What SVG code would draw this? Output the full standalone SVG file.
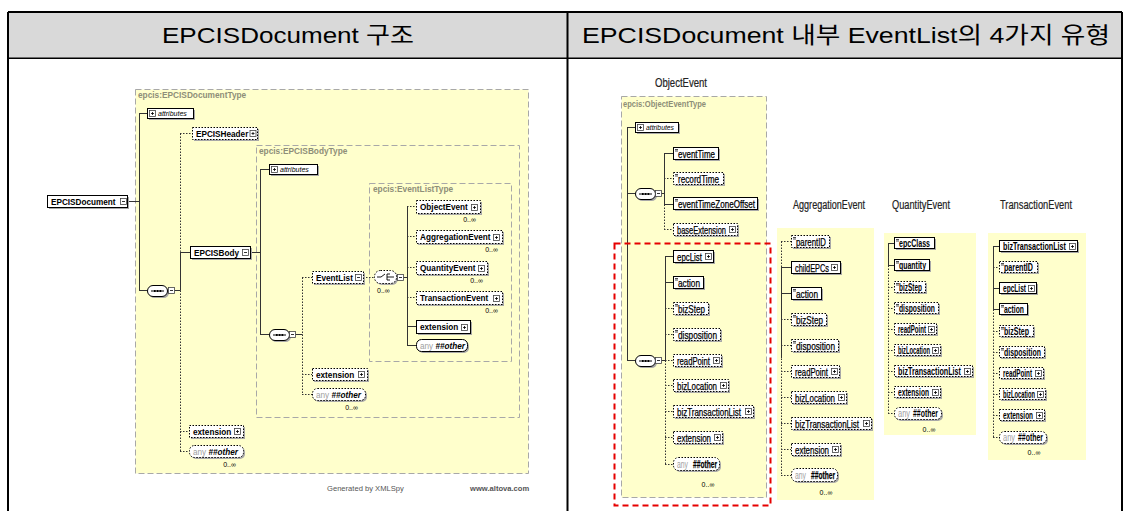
<svg xmlns="http://www.w3.org/2000/svg" xmlns:xlink="http://www.w3.org/1999/xlink" width="1127" height="511" viewBox="0 0 1127 511">
<style>
.sh{fill:#a8a8a8}
.bx{fill:#fff;stroke:#000;stroke-width:1}
.bo{fill:#fff;stroke:#000;stroke-width:1;stroke-dasharray:1.5 1.5}
.ln{stroke:#333;stroke-width:1;fill:none}
.dl{stroke:#333;stroke-width:1;fill:none;stroke-dasharray:1.5 1.5}
.yb{fill:#ffffcc;stroke:#a8a8a8;stroke-width:1;stroke-dasharray:6 3}
.yf{fill:#ffffcc}
.hd{font-family:"Liberation Sans","Noto Sans CJK KR",sans-serif;font-size:22.5px;fill:#000}
.tl{font-family:"Liberation Sans",Arial,sans-serif;font-size:8.2px;font-weight:bold;fill:#000}
.ti{font-family:"Liberation Sans",Arial,sans-serif;font-size:7px;font-style:italic;fill:#000}
.ty{font-family:"Liberation Sans",Arial,sans-serif;font-size:8.3px;font-weight:bold;fill:#8e8e78}
.tr{font-family:"Liberation Sans",Arial,sans-serif;font-size:11px;fill:#000;stroke:#000;stroke-width:0.25}
.tb{font-family:"Liberation Sans",Arial,sans-serif;font-size:10px;font-weight:bold;fill:#000}
.an{fill:#a0a0a0;stroke:none;font-weight:normal;font-style:normal}
.oth{font-weight:bold;font-style:italic;fill:#000}
.mu{font-family:"Liberation Sans",Arial,sans-serif;font-size:7px;fill:#000}
.tt{font-family:"Liberation Sans",Arial,sans-serif;font-size:12px;fill:#222;stroke:#222;stroke-width:0.2}
.ft{font-family:"Liberation Sans",Arial,sans-serif;font-size:7.6px;fill:#555}
</style>
<defs>
  <g id="pl"><rect x="0.5" y="0.5" width="6" height="6" fill="#fff" stroke="#444" stroke-width="0.8"/><path d="M2 3.5h3M3.5 2v3" stroke="#000" stroke-width="0.8"/></g>
  <g id="mi"><rect x="0.5" y="0.5" width="6" height="6" fill="#fff" stroke="#444" stroke-width="0.8"/><path d="M2 3.5h3" stroke="#000" stroke-width="0.8"/></g>
  <path id="eq" d="M0 0.5h3M0 2h3" stroke="#000" stroke-width="0.7"/>
  <g id="seq">
    <rect x="2" y="2" width="20" height="11" rx="5.5" fill="#a8a8a8"/>
    <rect x="0.5" y="0.5" width="20" height="11" rx="5.5" fill="#fff" stroke="#000"/>
    <path d="M4 6h13" stroke="#000" stroke-width="1"/>
    <path d="M7 6h1.6M9.8 6h1.6M12.6 6h1.6" stroke="#000" stroke-width="2.2"/>
  </g>
  <g id="cho">
    <rect x="2" y="2" width="22" height="13" rx="6" fill="#a8a8a8"/>
    <rect x="0.5" y="0.5" width="22" height="13" rx="6" fill="#fff" stroke="#000" stroke-dasharray="1.5 1.5"/>
    <path d="M3 7h4l4-3M13 4v6M13 4h3M13 7h3M13 10h3M16 7h4" stroke="#000" stroke-width="0.9" fill="none"/>
  </g>
</defs>

<!-- table frame -->
<g id="table">
  <rect x="9" y="13" width="1112" height="45" fill="#d9d9d9"/>
  <path d="M8 12H1122M8 12V511M1122 12V511M567.5 12V511" stroke="#000" stroke-width="2" fill="none"/>
  <path d="M8 58.2H1122" stroke="#000" stroke-width="1.5"/>
  <text class="hd" x="162" y="43" textLength="252" lengthAdjust="spacingAndGlyphs">EPCISDocument 구조</text>
  <text class="hd" x="582" y="43" textLength="528" lengthAdjust="spacingAndGlyphs">EPCISDocument 내부 EventList의 4가지 유형</text>
</g>

<!-- type containers -->
<g id="containers">
  <rect class="yb" x="135.5" y="89.5" width="393" height="384"/>
  <text class="ty" x="138" y="98">epcis:EPCISDocumentType</text>
  <rect class="yb" x="256.5" y="145.5" width="263" height="272"/>
  <text class="ty" x="259" y="154">epcis:EPCISBodyType</text>
  <rect class="yb" x="369.5" y="183.5" width="142" height="178"/>
  <text class="ty" x="373" y="192">epcis:EventListType</text>
  <rect class="yb" x="621.5" y="96.5" width="145" height="401"/>
  <text class="ty" x="623" y="106.5" font-weight="normal" font-size="9.5" textLength="83" lengthAdjust="spacingAndGlyphs">epcis:ObjectEventType</text>
  <rect class="yf" x="777" y="228" width="97" height="272"/>
  <rect class="yf" x="884" y="233" width="92" height="202"/>
  <rect class="yf" x="988" y="233" width="98" height="227"/>
</g>

<!-- connectors -->
<g id="connectors">
  <path class="ln" d="M128 201.5H139.5M139.5 113.5V290.5M139 113.5H147M139 290.5H147M174 290.5H180.5"/>
  <path class="dl" d="M180.5 133.5V251.5M180.5 290.5V451.5M180 133.5H192M180 431.5H189M180 451.5H189"/>
  <path class="ln" d="M180.5 251.5V290.5M180 252.5H190M250 252.5H260.5"/>
  <path class="ln" d="M260.5 169.5V334.5M260 169.5H269M260 334.5H269M295 334.5H302.5"/>
  <path class="dl" d="M302.5 277.5V394.5M302 277.5H312M302 374.5H312M302 394.5H312M363 277.5H374"/>
  <path class="ln" d="M403 277.5H407.5M407.5 206.5V345.5M407 326.5H416M407 345.5H416"/>
  <path class="dl" d="M407 206.5H416M407 236.5H416M407 267.5H416M407 297.5H416"/>

  <path class="ln" d="M627.5 127.5V360.5M627 127.5H635M627 193.5H635M627 360.5H635M661 193.5H664.5M664.5 153.5V204.5M664 153.5H673M664 204.5H673"/>
  <path class="dl" d="M664.5 204.5V229.5M664 178.5H673M664 229.5H673"/>
  <path class="ln" d="M661 360.5H665.5M665.5 256.5V360.5M665 256.5H673M665 282.5H673"/>
  <path class="dl" d="M665.5 360.5V464.5M665 308.5H673M665 334.5H673M665 360.5H673M665 385.5H673M665 411.5H673M665 437.5H673M665 464.5H673"/>

  <path class="dl" d="M781.5 241.5V475.5M781 241.5H791M781 319.5H791M781 345.5H791M781 371.5H791M781 397.5H791M781 423.5H791M781 449.5H791M781 475.5H791"/>
  <path class="ln" d="M781.5 267.5V358M781 267.5H791M781 293.5H791"/>

  <path class="ln" d="M888.5 243.5V265.5M888 243.5H894M888 265.5H894"/>
  <path class="dl" d="M888.5 265.5V413.5M888 287.5H894M888 308.5H894M888 329.5H894M888 350.5H894M888 371.5H894M888 392.5H894M888 413.5H894"/>

  <path class="ln" d="M993.5 246.5V309.5M993 246.5H999M993 288.5H999M993 309.5H999"/>
  <path class="dl" d="M993.5 309.5V437.5M993 267.5H999M993 331.5H999M993 352.5H999M993 373.5H999M993 394.5H999M993 415.5H999M993 437.5H999"/>
</g>

<!-- EPCISDocument structure -->
<g id="n-EPCISDocument"><rect class="sh" x="49" y="197" width="80" height="12"/><rect class="bx" x="47.5" y="195.5" width="80" height="12"/><text class="tl" x="51" y="204.5">EPCISDocument</text><use href="#mi" x="120" y="198"/></g>
<g id="n-doc-attributes"><rect class="sh" x="149" y="110" width="46" height="10"/><rect class="bx" x="147.5" y="108.5" width="46" height="10"/><use href="#pl" x="149" y="110"/><text class="ti" x="158" y="116">attributes</text></g>
<g id="n-doc-seq"><use href="#seq" x="147" y="285"/><use href="#mi" x="168" y="287"/></g>
<g id="n-EPCISHeader"><rect class="sh" x="194" y="129" width="65" height="12"/><rect class="bo" x="192.5" y="127.5" width="65" height="12"/><text class="tl" x="196" y="136.5">EPCISHeader</text><use href="#pl" x="249.5" y="130"/></g>
<g id="n-EPCISBody"><rect class="sh" x="192" y="248" width="60" height="12"/><rect class="bx" x="190.5" y="246.5" width="60" height="12"/><text class="tl" x="194" y="255.5">EPCISBody</text><use href="#mi" x="242" y="249"/></g>
<g id="n-body-attributes"><rect class="sh" x="271" y="166" width="48" height="10"/><rect class="bx" x="269.5" y="164.5" width="48" height="10"/><use href="#pl" x="271" y="166"/><text class="ti" x="280" y="172">attributes</text></g>
<g id="n-body-seq"><use href="#seq" x="269" y="329"/><use href="#mi" x="289" y="331"/></g>
<g id="n-EventList"><rect class="sh" x="314" y="273" width="51" height="12"/><rect class="bo" x="312.5" y="271.5" width="51" height="12"/><text class="tl" x="316" y="280.5">EventList</text><use href="#mi" x="355" y="274"/></g>
<g id="n-choice"><use href="#cho" x="374" y="270"/><use href="#mi" x="397" y="274"/><text class="mu" x="377" y="293">0..∞</text></g>
<g id="n-ObjectEvent"><rect class="sh" x="418" y="202" width="64" height="13"/><rect class="bo" x="416.5" y="200.5" width="64" height="13"/><text class="tl" x="420" y="209.5">ObjectEvent</text><use href="#pl" x="471" y="204"/><text class="mu" x="476" y="222" text-anchor="end">0..∞</text></g>
<g id="n-AggregationEvent"><rect class="sh" x="418" y="232" width="86" height="13"/><rect class="bo" x="416.5" y="230.5" width="86" height="13"/><text class="tl" x="420" y="239.5">AggregationEvent</text><use href="#pl" x="493" y="234"/><text class="mu" x="498" y="252" text-anchor="end">0..∞</text></g>
<g id="n-QuantityEvent"><rect class="sh" x="418" y="263" width="71" height="13"/><rect class="bo" x="416.5" y="261.5" width="71" height="13"/><text class="tl" x="420" y="270.5">QuantityEvent</text><use href="#pl" x="478" y="265"/><text class="mu" x="483" y="283" text-anchor="end">0..∞</text></g>
<g id="n-TransactionEvent"><rect class="sh" x="418" y="293" width="86" height="13"/><rect class="bo" x="416.5" y="291.5" width="86" height="13"/><text class="tl" x="420" y="300.5">TransactionEvent</text><use href="#pl" x="493" y="295"/><text class="mu" x="498" y="313" text-anchor="end">0..∞</text></g>
<g id="n-list-extension"><rect class="sh" x="418" y="322" width="54" height="13"/><rect class="bx" x="416.5" y="320.5" width="54" height="13"/><text class="tl" x="420" y="329.5">extension</text><use href="#pl" x="461" y="324"/></g>
<g id="n-list-any"><rect class="sh" x="418" y="341" width="51" height="12" rx="5"/><rect class="bx" x="416.5" y="339.5" width="51" height="12" rx="5"/><text class="tl" x="420" y="348.5"><tspan class="an">any</tspan> <tspan class="oth">##other</tspan></text></g>
<g id="n-body-extension"><rect class="sh" x="314" y="370" width="55" height="12"/><rect class="bo" x="312.5" y="368.5" width="55" height="12"/><text class="tl" x="316" y="377.5">extension</text><use href="#pl" x="358" y="371"/></g>
<g id="n-body-any"><rect class="sh" x="314" y="390" width="53" height="12" rx="5"/><rect class="bo" x="312.5" y="388.5" width="53" height="12" rx="5"/><text class="tl" x="316" y="397.5"><tspan class="an">any</tspan> <tspan class="oth">##other</tspan></text><text class="mu" x="358" y="410" text-anchor="end">0..∞</text></g>
<g id="n-doc-extension"><rect class="sh" x="191" y="427" width="54" height="12"/><rect class="bo" x="189.5" y="425.5" width="54" height="12"/><text class="tl" x="193" y="434.5">extension</text><use href="#pl" x="234" y="428"/></g>
<g id="n-doc-any"><rect class="sh" x="191" y="447" width="54" height="12" rx="5"/><rect class="bo" x="189.5" y="445.5" width="54" height="12" rx="5"/><text class="tl" x="193" y="454.5"><tspan class="an">any</tspan> <tspan class="oth">##other</tspan></text><text class="mu" x="236" y="467" text-anchor="end">0..∞</text></g>
<g id="footer"><text class="ft" x="327" y="491">Generated by XMLSpy</text><text class="ft" x="470" y="491" font-weight="bold">www.altova.com</text></g>

<!-- ObjectEvent -->
<g id="t-ObjectEvent"><text class="tt" x="655" y="87" textLength="52" lengthAdjust="spacingAndGlyphs">ObjectEvent</text></g>
<g id="o-attributes"><rect class="sh" x="637" y="124" width="43" height="10"/><rect class="bx" x="635.5" y="122.5" width="43" height="10"/><use href="#pl" x="637" y="124"/><text class="ti" x="646" y="130" textLength="28" lengthAdjust="spacingAndGlyphs">attributes</text></g>
<g id="o-seq1"><use href="#seq" x="635" y="188"/><use href="#mi" x="655" y="190"/></g>
<g id="o-seq2"><use href="#seq" x="635" y="355"/><use href="#mi" x="655" y="357"/></g>
<g id="o-eventTime"><rect class="sh" x="675" y="149" width="45" height="12"/><rect class="bx" x="673.5" y="147.5" width="45" height="12"/><use href="#eq" x="675" y="149"/><text class="tr" x="678" y="157.5" textLength="37" lengthAdjust="spacingAndGlyphs">eventTime</text></g>
<g id="o-recordTime"><rect class="sh" x="675" y="174" width="50" height="12"/><rect class="bo" x="673.5" y="172.5" width="50" height="12"/><use href="#eq" x="675" y="174"/><text class="tr" x="678" y="182.5" textLength="41" lengthAdjust="spacingAndGlyphs">recordTime</text></g>
<g id="o-eventTimeZoneOffset"><rect class="sh" x="675" y="199" width="84" height="12"/><rect class="bx" x="673.5" y="197.5" width="84" height="12"/><use href="#eq" x="675" y="199"/><text class="tr" x="678" y="208" textLength="77" lengthAdjust="spacingAndGlyphs">eventTimeZoneOffset</text></g>
<g id="o-baseExtension"><rect class="sh" x="675" y="225" width="64" height="12"/><rect class="bo" x="673.5" y="223.5" width="64" height="12"/><text class="tr" x="677" y="233.5" textLength="49" lengthAdjust="spacingAndGlyphs">baseExtension</text><use href="#pl" x="729" y="226"/></g>
<g id="o-epcList"><rect class="sh" x="675" y="252" width="40" height="12"/><rect class="bx" x="673.5" y="250.5" width="40" height="12"/><text class="tr" x="677" y="260.5" textLength="25" lengthAdjust="spacingAndGlyphs">epcList</text><use href="#pl" x="705" y="253"/></g>
<g id="o-action"><rect class="sh" x="675" y="278" width="30" height="12"/><rect class="bx" x="673.5" y="276.5" width="30" height="12"/><use href="#eq" x="675" y="278"/><text class="tr" x="678" y="286.5" textLength="22" lengthAdjust="spacingAndGlyphs">action</text></g>
<g id="o-bizStep"><rect class="sh" x="675" y="304" width="35" height="12"/><rect class="bo" x="673.5" y="302.5" width="35" height="12"/><use href="#eq" x="675" y="304"/><text class="tr" x="678" y="312.5" textLength="27" lengthAdjust="spacingAndGlyphs">bizStep</text></g>
<g id="o-disposition"><rect class="sh" x="675" y="330" width="47" height="12"/><rect class="bo" x="673.5" y="328.5" width="47" height="12"/><use href="#eq" x="675" y="330"/><text class="tr" x="678" y="338.5" textLength="39" lengthAdjust="spacingAndGlyphs">disposition</text></g>
<g id="o-readPoint"><rect class="sh" x="675" y="356" width="48" height="12"/><rect class="bo" x="673.5" y="354.5" width="48" height="12"/><text class="tr" x="677" y="364.5" textLength="33" lengthAdjust="spacingAndGlyphs">readPoint</text><use href="#pl" x="713" y="357"/></g>
<g id="o-bizLocation"><rect class="sh" x="675" y="381" width="55" height="12"/><rect class="bo" x="673.5" y="379.5" width="55" height="12"/><text class="tr" x="677" y="389.5" textLength="40" lengthAdjust="spacingAndGlyphs">bizLocation</text><use href="#pl" x="720" y="382"/></g>
<g id="o-bizTransactionList"><rect class="sh" x="675" y="407" width="80" height="12"/><rect class="bo" x="673.5" y="405.5" width="80" height="12"/><text class="tr" x="677" y="415.5" textLength="64" lengthAdjust="spacingAndGlyphs">bizTransactionList</text><use href="#pl" x="745" y="408"/></g>
<g id="o-extension"><rect class="sh" x="675" y="433" width="49" height="12"/><rect class="bo" x="673.5" y="431.5" width="49" height="12"/><text class="tr" x="677" y="441.5" textLength="34" lengthAdjust="spacingAndGlyphs">extension</text><use href="#pl" x="714" y="434"/></g>
<g id="o-any"><rect class="sh" x="675" y="459" width="46" height="13" rx="5"/><rect class="bo" x="673.5" y="457.5" width="46" height="13" rx="5"/><text class="tr an" x="677" y="468" textLength="11" lengthAdjust="spacingAndGlyphs">any</text><text class="tr" x="693" y="468" font-weight="bold" textLength="24" lengthAdjust="spacingAndGlyphs">##other</text><text class="mu" x="708" y="487" text-anchor="middle">0..∞</text></g>
<g id="o-focus"><rect x="614.5" y="243.5" width="156" height="262" fill="none" stroke="#e60000" stroke-width="2" stroke-dasharray="6 4"/></g>

<!-- AggregationEvent -->
<g id="t-AggregationEvent"><text class="tt" x="793" y="209" textLength="72" lengthAdjust="spacingAndGlyphs">AggregationEvent</text></g>
<g id="a-parentID"><rect class="sh" x="793" y="237" width="38" height="12"/><rect class="bo" x="791.5" y="235.5" width="38" height="12"/><use href="#eq" x="793" y="237"/><text class="tr" x="796" y="245.5" textLength="30" lengthAdjust="spacingAndGlyphs">parentID</text></g>
<g id="a-childEPCs"><rect class="sh" x="793" y="263" width="49" height="12"/><rect class="bx" x="791.5" y="261.5" width="49" height="12"/><text class="tr" x="795" y="271.5" textLength="34" lengthAdjust="spacingAndGlyphs">childEPCs</text><use href="#pl" x="831" y="264"/></g>
<g id="a-action"><rect class="sh" x="793" y="289" width="30" height="12"/><rect class="bx" x="791.5" y="287.5" width="30" height="12"/><use href="#eq" x="793" y="289"/><text class="tr" x="796" y="297.5" textLength="22" lengthAdjust="spacingAndGlyphs">action</text></g>
<g id="a-bizStep"><rect class="sh" x="793" y="315" width="35" height="12"/><rect class="bo" x="791.5" y="313.5" width="35" height="12"/><use href="#eq" x="793" y="315"/><text class="tr" x="796" y="323.5" textLength="27" lengthAdjust="spacingAndGlyphs">bizStep</text></g>
<g id="a-disposition"><rect class="sh" x="793" y="341" width="47" height="12"/><rect class="bo" x="791.5" y="339.5" width="47" height="12"/><use href="#eq" x="793" y="341"/><text class="tr" x="796" y="349.5" textLength="39" lengthAdjust="spacingAndGlyphs">disposition</text></g>
<g id="a-readPoint"><rect class="sh" x="793" y="367" width="48" height="12"/><rect class="bo" x="791.5" y="365.5" width="48" height="12"/><text class="tr" x="795" y="375.5" textLength="33" lengthAdjust="spacingAndGlyphs">readPoint</text><use href="#pl" x="831" y="368"/></g>
<g id="a-bizLocation"><rect class="sh" x="793" y="393" width="55" height="12"/><rect class="bo" x="791.5" y="391.5" width="55" height="12"/><text class="tr" x="795" y="401.5" textLength="40" lengthAdjust="spacingAndGlyphs">bizLocation</text><use href="#pl" x="838" y="394"/></g>
<g id="a-bizTransactionList"><rect class="sh" x="793" y="419" width="80" height="12"/><rect class="bo" x="791.5" y="417.5" width="80" height="12"/><text class="tr" x="795" y="427.5" textLength="64" lengthAdjust="spacingAndGlyphs">bizTransactionList</text><use href="#pl" x="863" y="420"/></g>
<g id="a-extension"><rect class="sh" x="793" y="445" width="49" height="12"/><rect class="bo" x="791.5" y="443.5" width="49" height="12"/><text class="tr" x="795" y="453.5" textLength="34" lengthAdjust="spacingAndGlyphs">extension</text><use href="#pl" x="832" y="446"/></g>
<g id="a-any"><rect class="sh" x="793" y="470" width="46" height="13" rx="5"/><rect class="bo" x="791.5" y="468.5" width="46" height="13" rx="5"/><text class="tr an" x="795" y="479" textLength="11" lengthAdjust="spacingAndGlyphs">any</text><text class="tr" x="811" y="479" font-weight="bold" textLength="24" lengthAdjust="spacingAndGlyphs">##other</text><text class="mu" x="826" y="495" text-anchor="middle">0..∞</text></g>

<!-- QuantityEvent -->
<g id="t-QuantityEvent"><text class="tt" x="892" y="209" textLength="58" lengthAdjust="spacingAndGlyphs">QuantityEvent</text></g>
<g id="q-epcClass"><rect class="sh" x="896" y="239" width="40" height="11"/><rect class="bx" x="894.5" y="237.5" width="40" height="11"/><use href="#eq" x="896" y="239"/><text class="tb" x="899" y="246.7" textLength="31" lengthAdjust="spacingAndGlyphs">epcClass</text></g>
<g id="q-quantity"><rect class="sh" x="896" y="261" width="35" height="11"/><rect class="bx" x="894.5" y="259.5" width="35" height="11"/><use href="#eq" x="896" y="261"/><text class="tb" x="899" y="268.7" textLength="27" lengthAdjust="spacingAndGlyphs">quantity</text></g>
<g id="q-bizStep"><rect class="sh" x="896" y="283" width="31" height="11"/><rect class="bo" x="894.5" y="281.5" width="31" height="11"/><use href="#eq" x="896" y="283"/><text class="tb" x="899" y="290.7" textLength="23" lengthAdjust="spacingAndGlyphs">bizStep</text></g>
<g id="q-disposition"><rect class="sh" x="896" y="304" width="44" height="11"/><rect class="bo" x="894.5" y="302.5" width="44" height="11"/><use href="#eq" x="896" y="304"/><text class="tb" x="899" y="311.7" textLength="36" lengthAdjust="spacingAndGlyphs">disposition</text></g>
<g id="q-readPoint"><rect class="sh" x="896" y="325" width="42" height="11"/><rect class="bo" x="894.5" y="323.5" width="42" height="11"/><text class="tb" x="898" y="332.7" textLength="28" lengthAdjust="spacingAndGlyphs">readPoint</text><use href="#pl" x="928" y="326"/></g>
<g id="q-bizLocation"><rect class="sh" x="896" y="346" width="46" height="11"/><rect class="bo" x="894.5" y="344.5" width="46" height="11"/><text class="tb" x="898" y="353.7" textLength="32" lengthAdjust="spacingAndGlyphs">bizLocation</text><use href="#pl" x="932" y="347"/></g>
<g id="q-bizTransactionList"><rect class="sh" x="896" y="367" width="78" height="11"/><rect class="bo" x="894.5" y="365.5" width="78" height="11"/><text class="tb" x="898" y="374.7" textLength="63" lengthAdjust="spacingAndGlyphs">bizTransactionList</text><use href="#pl" x="964" y="368"/></g>
<g id="q-extension"><rect class="sh" x="896" y="388" width="46" height="11"/><rect class="bo" x="894.5" y="386.5" width="46" height="11"/><text class="tb" x="898" y="395.7" textLength="31" lengthAdjust="spacingAndGlyphs">extension</text><use href="#pl" x="932" y="389"/></g>
<g id="q-any"><rect class="sh" x="896" y="409" width="47" height="12" rx="5"/><rect class="bo" x="894.5" y="407.5" width="47" height="12" rx="5"/><text class="tb an" x="898" y="417" textLength="12" lengthAdjust="spacingAndGlyphs">any</text><text class="tb" x="913" y="417" textLength="25" lengthAdjust="spacingAndGlyphs">##other</text><text class="mu" x="929" y="432" text-anchor="middle">0..∞</text></g>

<!-- TransactionEvent -->
<g id="t-TransactionEvent"><text class="tt" x="1000" y="209" textLength="72" lengthAdjust="spacingAndGlyphs">TransactionEvent</text></g>
<g id="x-bizTransactionList"><rect class="sh" x="1001" y="242" width="78" height="11"/><rect class="bx" x="999.5" y="240.5" width="78" height="11"/><text class="tb" x="1003" y="249.7" textLength="63" lengthAdjust="spacingAndGlyphs">bizTransactionList</text><use href="#pl" x="1069" y="243"/></g>
<g id="x-parentID"><rect class="sh" x="1001" y="263" width="38" height="11"/><rect class="bo" x="999.5" y="261.5" width="38" height="11"/><use href="#eq" x="1001" y="263"/><text class="tb" x="1004" y="270.7" textLength="29" lengthAdjust="spacingAndGlyphs">parentID</text></g>
<g id="x-epcList"><rect class="sh" x="1001" y="284" width="37" height="11"/><rect class="bx" x="999.5" y="282.5" width="37" height="11"/><text class="tb" x="1003" y="291.7" textLength="23" lengthAdjust="spacingAndGlyphs">epcList</text><use href="#pl" x="1028" y="285"/></g>
<g id="x-action"><rect class="sh" x="1001" y="305" width="28" height="11"/><rect class="bx" x="999.5" y="303.5" width="28" height="11"/><use href="#eq" x="1001" y="305"/><text class="tb" x="1004" y="312.7" textLength="20" lengthAdjust="spacingAndGlyphs">action</text></g>
<g id="x-bizStep"><rect class="sh" x="1001" y="327" width="34" height="11"/><rect class="bo" x="999.5" y="325.5" width="34" height="11"/><use href="#eq" x="1001" y="327"/><text class="tb" x="1004" y="334.7" textLength="25" lengthAdjust="spacingAndGlyphs">bizStep</text></g>
<g id="x-disposition"><rect class="sh" x="1001" y="348" width="45" height="11"/><rect class="bo" x="999.5" y="346.5" width="45" height="11"/><use href="#eq" x="1001" y="348"/><text class="tb" x="1004" y="355.7" textLength="37" lengthAdjust="spacingAndGlyphs">disposition</text></g>
<g id="x-readPoint"><rect class="sh" x="1001" y="369" width="44" height="11"/><rect class="bo" x="999.5" y="367.5" width="44" height="11"/><text class="tb" x="1003" y="376.7" textLength="29" lengthAdjust="spacingAndGlyphs">readPoint</text><use href="#pl" x="1035" y="370"/></g>
<g id="x-bizLocation"><rect class="sh" x="1001" y="390" width="46" height="11"/><rect class="bo" x="999.5" y="388.5" width="46" height="11"/><text class="tb" x="1003" y="397.7" textLength="32" lengthAdjust="spacingAndGlyphs">bizLocation</text><use href="#pl" x="1037" y="391"/></g>
<g id="x-extension"><rect class="sh" x="1001" y="411" width="45" height="11"/><rect class="bo" x="999.5" y="409.5" width="45" height="11"/><text class="tb" x="1003" y="418.7" textLength="30" lengthAdjust="spacingAndGlyphs">extension</text><use href="#pl" x="1036" y="412"/></g>
<g id="x-any"><rect class="sh" x="1001" y="433" width="47" height="12" rx="5"/><rect class="bo" x="999.5" y="431.5" width="47" height="12" rx="5"/><text class="tb an" x="1003" y="441" textLength="12" lengthAdjust="spacingAndGlyphs">any</text><text class="tb" x="1018" y="441" textLength="25" lengthAdjust="spacingAndGlyphs">##other</text><text class="mu" x="1034" y="455" text-anchor="middle">0..∞</text></g>
</svg>
